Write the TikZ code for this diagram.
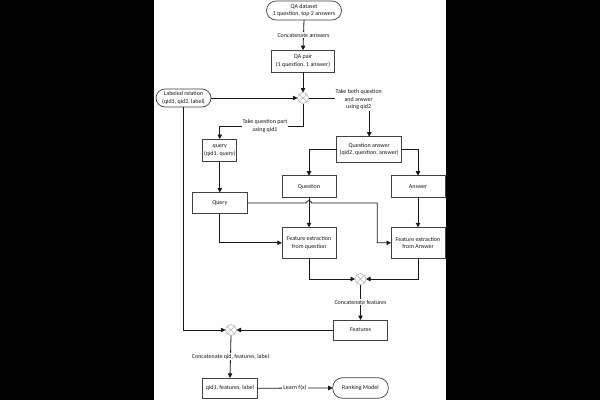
\documentclass[tikz,border=0pt]{standalone}
\usepackage{fontspec}
\setmainfont{Carlito}
\usetikzlibrary{arrows.meta}
\begin{document}
\begin{tikzpicture}[x=1pt,y=-1pt,
  every node/.style={font=\fontsize{6}{7.5}\selectfont, text=black!90},
  box/.style={draw=black!75, line width=0.7pt, fill=white, inner sep=0pt, outer sep=0pt, align=center},
  stadium/.style={box, rounded corners=9.5pt},
  joint/.style={circle, draw=black!30, line width=0.6pt, fill=white, inner sep=0pt, outer sep=0pt, minimum size=11pt},
  xline/.style={draw=black!30, line width=0.6pt},
  conn/.style={draw=black!90, line width=0.8pt, -{Triangle[length=4.5pt,width=4.5pt]}},
  plain/.style={draw=black!90, line width=0.8pt},
  lbl/.style={fill=white, inner sep=1pt, align=center}
]
\useasboundingbox (0,0) rectangle (600,400);
\fill[black] (0,0) rectangle (600,400);
\fill[white] (154,0) rectangle (446,400);

% nodes
\node[stadium, minimum width=75pt, minimum height=19pt] (qads) at (304,10.5) {QA dataset\\1 question, top 2 answers};
\node[box, minimum width=62.6pt, minimum height=21.7pt] (qapair) at (303,61) {QA pair\\(1 question, 1 answer)};
\node[joint] (c1) at (303,98) {};
\node[stadium, rounded corners=9pt, minimum width=55pt, minimum height=18pt] (lab) at (183.5,98) {Labeled relation\\(qid1, qid2, label)};
\node[box, minimum width=34pt, minimum height=22.7pt] (query) at (219.8,150.4) {query\\(qid1, query)};
\node[box, minimum width=65pt, minimum height=25.6pt] (qans) at (369.2,149.5) {Question answer\\(qid2, question, answer)};
\node[box, minimum width=54.3pt, minimum height=21.6pt] (quest) at (309,186.5) {Question};
\node[box, minimum width=54pt, minimum height=21.6pt] (ans) at (418,186.5) {Answer};
\node[box, minimum width=55pt, minimum height=21pt] (Query) at (219.8,203) {Query};
\node[box, minimum width=54.3pt, minimum height=31pt] (feq) at (309,242.8) {Feature extraction\\from question};
\node[box, minimum width=54pt, minimum height=31pt] (fea) at (418,242.8) {Feature extraction\\from Answer};
\node[joint] (c2) at (360.5,279) {};
\node[box, minimum width=54.6pt, minimum height=20pt] (feat) at (360.5,330) {Features};
\node[joint] (c3) at (231,330) {};
\node[box, minimum width=54.6pt, minimum height=20.5pt] (qidf) at (230,388.2) {qid1, features, label};
\node[stadium, rounded corners=10pt, minimum width=55.6pt, minimum height=20.6pt] (rank) at (360.5,388) {Ranking Model};

% crosses in joints
\foreach \c in {c1,c2,c3} {
  \draw[xline] (\c.north west) -- (\c.south east) (\c.north east) -- (\c.south west);
}

% connectors
\draw[conn] (qads.south) -- node[lbl] {Concatenate answers} (qapair.north);
\draw[conn] (qapair.south) -- (c1.north);
\draw[conn] (lab.east) -- (c1.west);
\draw[conn] (c1.east) -| node[lbl, pos=0.5, xshift=-10.5pt, yshift=-1.5pt] {Take both question\\and answer\\using qid2} (qans.north);
\draw[conn] (c1.south) -- (303,126) -| node[lbl, pos=0.25, xshift=3.6pt] {Take question part\\using qid1} (query.north);
\draw[conn] (query.south) -- (Query.north);
\draw[conn] (qans.west) -| (quest.north);
\draw[conn] (qans.east) -| (ans.north);
\draw[conn] (quest.south) -- (feq.north);
\draw[conn] (ans.south) -- (fea.north);
\draw[conn] (Query.east) -- (306.5,203) .. controls (306.5,199.8) and (311.5,199.8) .. (311.5,203) -- (377.3,203) |- (fea.west);
\draw[conn] (Query.south) |- (feq.west);
\draw[conn] (feq.south) |- (c2.west);
\draw[conn] (fea.south) |- (c2.east);
\draw[conn] (c2.south) -- node[lbl] {Concatenate features} (feat.north);
\draw[conn] (feat.west) -- (c3.east);
\draw[conn] (lab.south) |- (c3.west);
\draw[conn] (c3.south) -- node[lbl] {Concatenate qid, features, label} (qidf.north);
\draw[conn] (qidf.east) -- node[lbl] {Learn f(x)} (rank.west);
\end{tikzpicture}
\end{document}
